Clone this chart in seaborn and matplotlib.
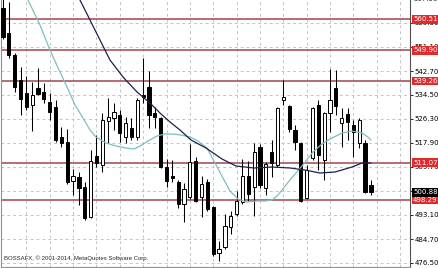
import numpy as np
import pandas as pd
import matplotlib
matplotlib.use("Agg")
import matplotlib.pyplot as plt
import seaborn as sns

# ---- data (daily candles) ----
opens = [564.43, 555.81, 548.22, 539.60, 535.12, 530.98, 536.84, 535.46, 532.01, 530.29,
         519.94, 518.22, 504.77, 506.15, 502.70, 492.36, 513.39, 510.29, 525.46, 526.50,
         527.53, 519.94, 523.05, 519.94, 534.43, 537.19, 528.22, 526.50, 509.60, 506.50,
         504.43, 496.84, 499.26, 511.67, 499.26, 504.43, 495.81, 479.95, 482.02, 488.91,
         493.40, 497.53, 506.50, 502.70, 516.50, 502.36, 514.77, 510.29, 532.70, 530.63,
         522.36, 517.88, 498.91, 512.70, 530.98, 512.01, 528.22, 536.84, 524.77, 527.88,
         524.08, 517.88, 517.88, 503.39]
highs = [568.91, 566.50, 548.91, 544.08, 540.98, 538.91, 543.74, 538.56, 535.12, 532.70,
         523.39, 522.70, 508.91, 507.88, 504.43, 515.46, 520.63, 528.22, 533.39, 531.67,
         529.25, 526.84, 526.50, 533.39, 547.19, 542.70, 530.29, 526.84, 512.36, 512.01,
         505.12, 504.08, 517.53, 513.05, 506.50, 505.46, 496.15, 484.09, 493.40, 494.43,
         501.33, 512.36, 511.67, 517.88, 517.53, 511.33, 518.91, 530.29, 539.60, 530.98,
         524.08, 518.22, 510.29, 530.29, 532.70, 528.56, 543.39, 543.05, 529.94, 529.94,
         525.81, 526.50, 518.91, 505.12]
lows = [553.74, 547.19, 535.46, 527.53, 529.25, 522.01, 534.43, 531.67, 525.81, 518.22,
        516.50, 503.74, 499.95, 496.50, 491.33, 492.02, 509.60, 507.88, 517.88, 522.36,
        518.22, 517.88, 518.91, 518.91, 531.67, 523.05, 523.05, 509.26, 502.70, 504.43,
        495.46, 490.64, 498.57, 497.53, 492.36, 494.43, 478.91, 477.19, 481.33, 486.50,
        492.71, 496.84, 497.88, 492.71, 502.36, 499.95, 506.15, 509.60, 530.98, 521.67,
        515.46, 497.53, 498.57, 512.01, 508.57, 505.12, 521.67, 527.53, 516.50, 518.91,
        513.05, 516.15, 500.64, 499.95]
closes = [554.43, 548.22, 537.19, 533.05, 530.29, 534.43, 534.77, 533.05, 528.56, 518.91,
          517.88, 504.43, 506.50, 502.36, 492.02, 511.67, 510.98, 525.81, 526.84, 528.56,
          521.32, 524.77, 519.94, 532.70, 533.74, 527.53, 526.84, 509.60, 504.77, 505.81,
          496.84, 502.02, 511.33, 497.88, 503.74, 495.12, 479.60, 481.33, 489.26, 492.71,
          497.88, 506.50, 500.29, 514.77, 503.39, 510.64, 510.98, 529.94, 533.74, 522.70,
          518.22, 497.88, 508.57, 529.94, 513.74, 528.22, 532.70, 530.63, 526.50, 525.12,
          521.67, 525.81, 500.98, 500.88]

# fast moving average (light teal), traced points: bar index / price
fast_ma_x = [3.60, 4.28, 6.34, 8.05, 9.76, 10.96, 12.33, 13.70, 14.90, 15.92, 17.64, 19.35,
             21.06, 22.43, 23.46, 24.83, 26.37, 27.74, 29.11, 30.48, 32.02, 33.39, 34.93,
             36.30, 37.67, 38.87, 40.24, 41.78, 43.49, 44.86, 46.06, 47.09, 49.14, 51.20,
             53.08, 54.62, 55.99, 58.05, 59.76, 61.47, 62.50, 63.00]
fast_ma_y = [569.94, 567.19, 558.56, 549.94, 542.36, 537.19, 530.98, 526.50, 522.36, 519.94,
             517.88, 516.84, 516.15, 515.81, 516.84, 518.57, 520.29, 520.98, 520.98, 520.63,
             519.94, 518.57, 516.15, 510.98, 505.81, 501.33, 498.57, 497.53, 497.88, 497.88,
             498.22, 499.95, 505.12, 509.95, 514.77, 517.53, 519.26, 521.32, 522.01, 521.32,
             519.94, 518.90]
# slow moving average (dark navy)
slow_ma_x = [12.33, 13.18, 14.90, 16.61, 18.32, 20.55, 22.95, 25.17, 26.88, 28.60, 30.31,
             32.19, 34.76, 37.50, 39.90, 42.98, 46.06, 49.14, 51.71, 54.28, 56.85, 59.76,
             61.47, 63.00]
slow_ma_y = [569.94, 567.19, 560.29, 553.39, 546.50, 540.63, 535.46, 531.67, 528.22, 525.12,
             522.36, 518.91, 516.15, 512.36, 509.95, 509.26, 509.60, 509.26, 508.57, 507.53,
             507.88, 509.60, 510.98, 511.00]

levels = [560.51, 549.90, 539.26, 511.07, 498.29]
level_labels = ["560.51", "549.90", "539.26", "511.07", "498.29"]
last_price = 500.88
last_label = "500.88"
ytick_values = [476.50, 484.70, 493.10, 501.30, 509.70, 517.90, 526.30, 534.50, 542.70,
                551.10, 559.30]
ytick_labels = ["476.50", "484.70", "493.10", "", "509.70", "517.90", "526.30",
                "534.50", "542.70", "551.10", "559.30"]
top_label_value = 567.50
top_label = "567.50"
copyright_text = "BOSSAFX, \u00a9 2001-2014, MetaQuotes Software Corp."

# ---- drawing ----
sns.set_style("white")
plt.rcParams['font.family'] = ['DejaVu Sans']

W, H = 439, 268
fig = plt.figure(figsize=(W / 100, H / 100), dpi=100)
ax = fig.add_axes([1 / W, 1 / H, 409 / W, 267 / H])

df = pd.DataFrame({"i": np.arange(len(opens)), "open": opens, "high": highs,
                   "low": lows, "close": closes})
up = df["close"] >= df["open"]

# wicks
ax.vlines(df["i"], df["low"], df["high"], color="black", lw=0.75, zorder=3)
# bodies
body_bottom = np.minimum(df["open"], df["close"])
body_h = np.maximum(np.abs(df["close"] - df["open"]), 0.35)
ax.bar(df["i"][up], body_h[up], bottom=body_bottom[up], width=0.55,
       color="white", edgecolor="black", linewidth=0.7, zorder=4)
ax.bar(df["i"][~up], body_h[~up], bottom=body_bottom[~up], width=0.55,
       color="black", edgecolor="black", linewidth=0.7, zorder=4)

# moving averages
fast_df = pd.DataFrame({"x": fast_ma_x, "y": fast_ma_y})
slow_df = pd.DataFrame({"x": slow_ma_x, "y": slow_ma_y})
sns.lineplot(data=fast_df, x="x", y="y", ax=ax, color="#7dbfbf", lw=0.9,
             sort=False, zorder=5, estimator=None)
sns.lineplot(data=slow_df, x="x", y="y", ax=ax, color="#1f1f4f", lw=0.9,
             sort=False, zorder=5, estimator=None)

# horizontal levels
for v in levels:
    ax.axhline(v, color="#a9545e", lw=1.2, zorder=2)

ax.set_xlim(-0.34, 69.69)
ax.set_ylim(475.12, 567.19)

# grid
ax.set_xticks(np.arange(4, 70, 4))
ax.set_xticklabels([])
ax.set_yticks(ytick_values)
ax.set_yticklabels(ytick_labels)
ax.grid(True, color="#c4c4c4", lw=0.7, linestyle=(0, (3, 3)), zorder=0)
ax.set_axisbelow(True)
ax.tick_params(axis="x", length=0)
ax.yaxis.tick_right()
ax.tick_params(axis="y", length=2, width=0.6, pad=1.5, labelsize=5, colors="black")
ax.set_xlabel("")
ax.set_ylabel("")

ax.spines["top"].set_visible(False)
ax.spines["left"].set_color("#909090")
ax.spines["bottom"].set_color("#909090")
ax.spines["right"].set_color("#505050")
for s in ["left", "bottom", "right"]:
    ax.spines[s].set_linewidth(0.8)

trans = ax.get_yaxis_transform()
ax.text(1.0075, top_label_value, top_label, transform=trans, fontsize=5,
        va="center", ha="left", clip_on=False, zorder=6)
for v, lab in zip(levels, level_labels):
    ax.text(1.0075, v, lab, transform=trans, fontsize=5, color="white",
            va="center", ha="left", clip_on=False, zorder=7,
            bbox=dict(boxstyle="square,pad=0.2", fc="#df2a2e", ec="none"))
ax.text(1.0075, last_price, last_label, transform=trans, fontsize=5, color="white",
        va="center", ha="left", clip_on=False, zorder=7,
        bbox=dict(boxstyle="square,pad=0.2", fc="black", ec="none"))

ax.text(3 / 409, 0.032, copyright_text, transform=ax.transAxes, fontsize=4.3,
        family="Liberation Sans", va="center", ha="left", zorder=8)

fig.savefig("out.png", dpi=100, facecolor="white")
